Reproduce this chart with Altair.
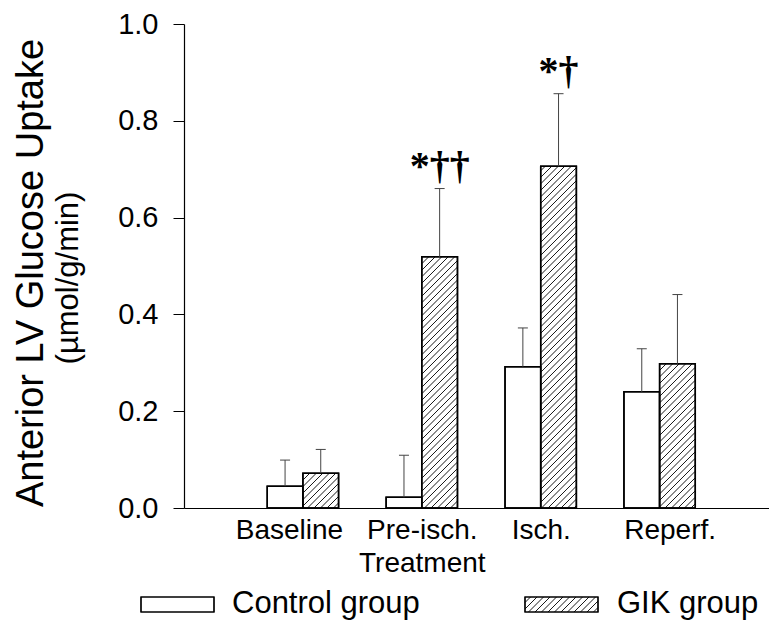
import json
import altair as alt
import numpy as np
import pandas as pd

# ---------------- data ----------------
categories = ["Baseline", "Pre-isch.\nTreatment", "Isch.", "Reperf."]
control_mean = [0.045, 0.022, 0.292, 0.240]
control_sem = [0.054, 0.087, 0.080, 0.089]
gik_mean = [0.072, 0.519, 0.706, 0.298]
gik_sem = [0.049, 0.141, 0.150, 0.143]
significance = ["", "*††", "*†", ""]
groups = ["Control group", "GIK group"]
y_ticks = [0.0, 0.2, 0.4, 0.6, 0.8, 1.0]
y_title = "Anterior LV Glucose Uptake"
y_unit = "(µmol/g/min)"

# ---------------- layout ----------------
W, H = 585, 484
X_MAX = 4.92
PX = W / X_MAX          # pixels per x unit
HALF = 0.3              # bar width in x units
CAP = 5.0 / PX          # half width of error caps
STEP = 6.5              # hatch spacing in px
FONT = "Liberation Sans"


def hatch_segments(x0, x1, y0, y1, step):
    """45 degree '/' hatch inside a pixel rectangle (y up)."""
    segs = []
    k0 = int(np.ceil((x0 - y1) / step))
    k1 = int(np.floor((x1 - y0) / step))
    for k in range(k0, k1 + 1):
        c = k * step
        xa = max(x0, y0 + c)
        xb = min(x1, y1 + c)
        if xb - xa > 0.4:
            segs.append((xa / PX, (xa - c) / H, xb / PX, (xb - c) / H))
    return segs


# bars table
rows = []
for i, cat in enumerate(categories):
    pos = i + 1
    rows.append(dict(cat=cat, group=groups[0], x=pos - HALF, x2=pos,
                     c=pos - HALF / 2, y=0.0, y2=control_mean[i],
                     top=control_mean[i] + control_sem[i], sig=""))
    rows.append(dict(cat=cat, group=groups[1], x=pos, x2=pos + HALF,
                     c=pos + HALF / 2, y=0.0, y2=gik_mean[i],
                     top=gik_mean[i] + gik_sem[i], sig=significance[i]))
bars = pd.DataFrame(rows)
bars["cl"] = bars["c"] - CAP
bars["cr"] = bars["c"] + CAP

# hatch lines of the GIK bars
hrows = []
for _, r in bars[bars.group == groups[1]].iterrows():
    for s in hatch_segments(r.x * PX, r.x2 * PX, 0.0, r.y2 * H, STEP):
        hrows.append(dict(zip(["x", "y", "x2", "y2"], s)))
hatch = pd.DataFrame(hrows)

# legend (pixel offsets below the zero line, converted to data units)
leg_y0, leg_y1 = -104, -89            # y up pixels relative to zero line
leg_items = pd.DataFrame([
    dict(label=groups[0], x=-43 / PX, x2=30 / PX, tx=48 / PX),
    dict(label=groups[1], x=341 / PX, x2=414 / PX, tx=433 / PX),
])
leg_items["y"] = leg_y0 / H
leg_items["y2"] = leg_y1 / H
leg_items["ty"] = -105 / H
lh = []
for s in hatch_segments(341, 414, leg_y0, leg_y1, STEP):
    lh.append(dict(zip(["x", "y", "x2", "y2"], s)))
leg_hatch = pd.DataFrame(lh)

titles = pd.DataFrame([dict(t=y_title, x=-141 / PX, y=235 / H)])
units = pd.DataFrame([dict(t=y_unit, x=-106 / PX, y=230 / H)])

# ---------------- scales / axes ----------------
label_list = [c.split("\n") if "\n" in c else c for c in categories]
label_expr = json.dumps(label_list) + "[datum.value - 1]"

xscale = alt.Scale(domain=[0, X_MAX], nice=False, zero=False)
yscale = alt.Scale(domain=[0, 1], nice=False, zero=False)
xaxis = alt.Axis(values=[1, 2, 3, 4], labelExpr=label_expr, ticks=False,
                 tickSize=0, domainColor="black", domainWidth=1.2,
                 labelFontSize=28, labelColor="black", labelPadding=8,
                 labelLineHeight=33, grid=False, labelFont=FONT, labelAngle=0,
                 labelOverlap=False, labelFlush=False, labelBaseline="top",
                 labelOffset={"expr": "datum.value == 1 ? -14 : (datum.value == 4 ? 10 : 0)"},
                 title=None)
yaxis = alt.Axis(values=y_ticks, format=".1f", tickSize=11, tickColor="black",
                 tickWidth=1, domainColor="black", domainWidth=1.2,
                 labelFontSize=29, labelColor="black", labelPadding=15,
                 labelFont=FONT, grid=False, title=None)


def X(f):
    return alt.X(f"{f}:Q", scale=xscale, axis=xaxis, title=None)


def Y(f):
    return alt.Y(f"{f}:Q", scale=yscale, axis=yaxis, title=None)


base_bars = alt.Chart(bars)

bar_fill = base_bars.mark_rect(fill="white", stroke="black", strokeWidth=1.5).encode(
    x=X("x"), x2="x2", y=Y("y"), y2="y2")

hatch_layer = alt.Chart(hatch).mark_rule(color="black", strokeWidth=0.9).encode(
    x=X("x"), y=Y("y"), x2="x2", y2="y2")

bar_outline = base_bars.mark_rect(fillOpacity=0, stroke="black", strokeWidth=1.5).encode(
    x=X("x"), x2="x2", y=Y("y"), y2="y2")

err_line = base_bars.mark_rule(color="#444444", strokeWidth=1).encode(
    x=X("c"), y=Y("y2"), y2="top")

err_cap = base_bars.mark_rule(color="#444444", strokeWidth=1).encode(
    x=X("cl"), x2="cr", y=Y("top"))

sig = base_bars.transform_filter("datum.sig != ''").mark_text(
    font="Liberation Serif", fontSize=40, fontWeight="bold", baseline="alphabetic",
    align="center", dy=-10, color="black").encode(
    x=X("c"), y=Y("top"), text="sig:N")

title_layer = alt.Chart(titles).mark_text(
    font=FONT, fontSize=38, angle=270, align="center", baseline="alphabetic",
    color="black").encode(x=X("x"), y=Y("y"), text="t:N")

unit_layer = alt.Chart(units).mark_text(
    font=FONT, fontSize=31, angle=270, align="center", baseline="alphabetic",
    color="black").encode(x=X("x"), y=Y("y"), text="t:N")

leg_rect = alt.Chart(leg_items).mark_rect(fill="white", stroke="black", strokeWidth=1.2).encode(
    x=X("x"), x2="x2", y=Y("y"), y2="y2")

leg_hatch_layer = alt.Chart(leg_hatch).mark_rule(color="black", strokeWidth=0.9).encode(
    x=X("x"), y=Y("y"), x2="x2", y2="y2")

leg_rect_outline = alt.Chart(leg_items).mark_rect(fillOpacity=0, stroke="black", strokeWidth=1.2).encode(
    x=X("x"), x2="x2", y=Y("y"), y2="y2")

leg_text = alt.Chart(leg_items).mark_text(
    font=FONT, fontSize=31, align="left", baseline="alphabetic", color="black").encode(
    x=X("tx"), y=Y("ty"), text="label:N")

chart = alt.layer(
    bar_fill, hatch_layer, bar_outline, err_line, err_cap, sig,
    title_layer, unit_layer, leg_rect, leg_hatch_layer, leg_rect_outline, leg_text,
).properties(
    width=W, height=H,
    autosize=alt.AutoSizeParams(type="none"),
    padding={"left": 176, "top": 16, "right": 0, "bottom": 113},
    background="white",
).configure_view(stroke=None)

chart.save("out.html", embed_options={"renderer": "svg", "actions": False})
